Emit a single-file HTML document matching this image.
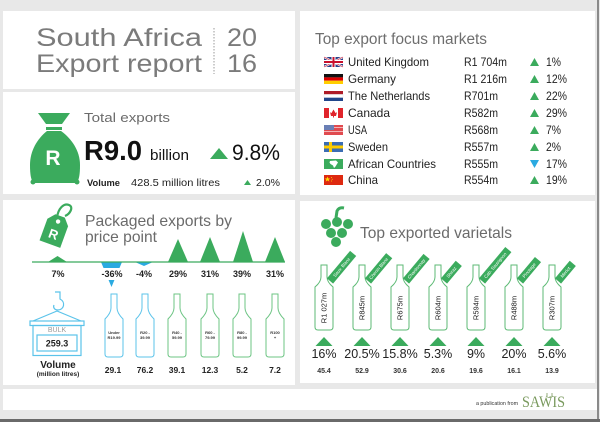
<!DOCTYPE html>
<html><head><meta charset="utf-8"><style>
html,body{margin:0;padding:0;width:600px;height:422px;overflow:hidden;background:#e8e8e8}
svg{display:block}
text{font-family:"Liberation Sans",Arial,sans-serif}
</style></head><body>
<svg width="600" height="422" viewBox="0 0 600 422" xmlns="http://www.w3.org/2000/svg">
<defs>
<path id="lb" d="M-3,0 H3 V14 Q3,19 9,25 V60 Q9,63 6,63 H-6 Q-9,63 -9,60 V25 Q-3,19 -3,14 Z"/>
<path id="rb" d="M-3,0 H3 V12 Q3,17 9,22 V62 Q9,65 6,65 H-6 Q-9,65 -9,62 V22 Q-3,17 -3,12 Z"/>
</defs>
<rect x="0" y="0" width="600" height="422" fill="#e8e8e8"/>
<rect x="3" y="11" width="292" height="78" fill="#fff"/>
<rect x="3" y="92" width="292" height="102" fill="#fff"/>
<rect x="3" y="200" width="292" height="185" fill="#fff"/>
<rect x="300" y="11" width="295" height="184" fill="#fff"/>
<rect x="300" y="201" width="295" height="182" fill="#fff"/>
<rect x="3" y="389" width="594" height="21" fill="#fff"/>
<rect x="597" y="0" width="2" height="422" fill="#8a8a8a"/>
<rect x="0" y="419" width="600" height="3" fill="#6a6a6a"/>

<!-- P1 header -->
<text x="36" y="46" font-size="25" fill="#7b7b7b" textLength="166" lengthAdjust="spacingAndGlyphs">South Africa</text>
<text x="36" y="72" font-size="25" fill="#7b7b7b" textLength="166" lengthAdjust="spacingAndGlyphs">Export report</text>
<line x1="214" y1="28" x2="214" y2="74" stroke="#9a9a9a" stroke-width="1" stroke-dasharray="1.5,1.5"/>
<text x="227" y="46" font-size="25" fill="#7b7b7b" textLength="30" lengthAdjust="spacingAndGlyphs">20</text>
<text x="227" y="72" font-size="25" fill="#7b7b7b" textLength="30" lengthAdjust="spacingAndGlyphs">16</text>

<!-- P2 total exports -->
<path d="M38,113 L70,113 L62,124 L46,124 Z" fill="#3bab5d"/>
<path d="M46,127 L62,127 L62,130 L46,130 Z" fill="#3bab5d"/>
<path d="M47,131 L61,131 C72,139 80,151 80,165 C80,175 79,179 77,183 L33,183 C31,179 30,175 30,165 C30,151 37,139 47,131 Z" fill="#3bab5d"/>
<circle cx="33" cy="182" r="2.5" fill="#3bab5d"/>
<circle cx="77" cy="182" r="2.5" fill="#3bab5d"/>
<text x="53" y="165" font-size="21" font-weight="bold" fill="#fff" text-anchor="middle">R</text>
<text x="84" y="122" font-size="13" fill="#6b6b6b" textLength="86" lengthAdjust="spacingAndGlyphs">Total exports</text>
<text x="84" y="160" font-size="28" font-weight="bold" fill="#111" textLength="58" lengthAdjust="spacingAndGlyphs">R9.0</text>
<text x="150" y="160" font-size="15" fill="#111" textLength="39" lengthAdjust="spacingAndGlyphs">billion</text>
<polygon points="210,159 219,148 228,159" fill="#3bab5d"/>
<text x="232" y="160" font-size="22" fill="#111" textLength="48" lengthAdjust="spacingAndGlyphs">9.8%</text>
<text x="87" y="186" font-size="9" font-weight="bold" fill="#222" textLength="33" lengthAdjust="spacingAndGlyphs">Volume</text>
<text x="131" y="186" font-size="10.5" fill="#222" textLength="89" lengthAdjust="spacingAndGlyphs">428.5 million litres</text>
<polygon points="244,185 247.5,180 251,185" fill="#3bab5d"/>
<text x="256" y="186" font-size="10" fill="#222" textLength="24" lengthAdjust="spacingAndGlyphs">2.0%</text>

<!-- P4 markets -->
<text x="315" y="44" font-size="15.5" fill="#6e6e6e" textLength="172" lengthAdjust="spacingAndGlyphs">Top export focus markets</text>
<g>
<rect x="324" y="57" width="19" height="10" fill="#2b3f87"/>
<line x1="324" y1="57" x2="343" y2="67" stroke="#fff" stroke-width="2"/>
<line x1="343" y1="57" x2="324" y2="67" stroke="#fff" stroke-width="2"/>
<line x1="324" y1="57" x2="343" y2="67" stroke="#c8102e" stroke-width="0.7"/>
<line x1="343" y1="57" x2="324" y2="67" stroke="#c8102e" stroke-width="0.7"/>
<rect x="331.5" y="57" width="4" height="10" fill="#fff"/>
<rect x="324" y="60" width="19" height="4" fill="#fff"/>
<rect x="332.5" y="57" width="2" height="10" fill="#c8102e"/>
<rect x="324" y="61" width="19" height="2" fill="#c8102e"/>
</g>
<rect x="324" y="74" width="19" height="3.4" fill="#111"/>
<rect x="324" y="77.4" width="19" height="3.3" fill="#dd0000"/>
<rect x="324" y="80.7" width="19" height="3.3" fill="#ffce00"/>
<rect x="324" y="91" width="19" height="3.4" fill="#ae1c28"/>
<rect x="324" y="94.4" width="19" height="3.3" fill="#fff" stroke="#ddd" stroke-width="0.3"/>
<rect x="324" y="97.7" width="19" height="3.3" fill="#21468b"/>
<rect x="324" y="108" width="19" height="10" fill="#fff"/>
<rect x="324" y="108" width="5" height="10" fill="#e0242b"/>
<rect x="338" y="108" width="5" height="10" fill="#e0242b"/>
<path d="M333.5,109.5 L335.5,113 L337,112.3 L336,116 L331,116 L330,112.3 L331.5,113 Z" fill="#e0242b"/>
<rect x="333" y="115.5" width="1" height="2" fill="#e0242b"/>
<rect x="324" y="125" width="19" height="10" fill="#e04a4f"/>
<rect x="324" y="127" width="19" height="1" fill="#f3b3b5"/>
<rect x="324" y="131" width="19" height="1" fill="#f3b3b5"/>
<rect x="324" y="125" width="10" height="5" fill="#6a7fb5"/>
<rect x="324" y="142" width="19" height="10" fill="#3b6db3"/>
<rect x="329" y="142" width="3" height="10" fill="#fecc00"/>
<rect x="324" y="145.5" width="19" height="3" fill="#fecc00"/>
<rect x="324" y="159" width="19" height="10" fill="#3bab5d"/>
<path d="M330,161 L336,160.5 L338,162.5 L337,164 L335.5,166.5 L334,168 L333,165.5 L330.5,164 L329.5,162.5 Z" fill="#fff"/>
<rect x="324" y="175" width="19" height="10" fill="#de2910"/>
<polygon points="327.5,176.5 328.3,178.5 330.3,178.5 328.7,179.7 329.3,181.6 327.5,180.4 325.7,181.6 326.3,179.7 324.7,178.5 326.7,178.5" fill="#ffde00"/>
<circle cx="331.5" cy="177.5" r="0.5" fill="#ffde00"/>
<circle cx="332.2" cy="179.2" r="0.5" fill="#ffde00"/>
<circle cx="331.5" cy="181" r="0.5" fill="#ffde00"/>

<g font-size="12" fill="#222">
<text x="348" y="66" textLength="81" lengthAdjust="spacingAndGlyphs">United Kingdom</text>
<text x="348" y="83" textLength="48" lengthAdjust="spacingAndGlyphs">Germany</text>
<text x="348" y="100" textLength="82" lengthAdjust="spacingAndGlyphs">The Netherlands</text>
<text x="348" y="117" textLength="42" lengthAdjust="spacingAndGlyphs">Canada</text>
<text x="348" y="134" textLength="19" lengthAdjust="spacingAndGlyphs">USA</text>
<text x="348" y="151" textLength="40" lengthAdjust="spacingAndGlyphs">Sweden</text>
<text x="348" y="168" textLength="88" lengthAdjust="spacingAndGlyphs">African Countries</text>
<text x="348" y="184" textLength="30" lengthAdjust="spacingAndGlyphs">China</text>
<text x="464" y="66" textLength="43" lengthAdjust="spacingAndGlyphs">R1 704m</text>
<text x="464" y="83" textLength="43" lengthAdjust="spacingAndGlyphs">R1 216m</text>
<text x="464" y="100" textLength="34" lengthAdjust="spacingAndGlyphs">R701m</text>
<text x="464" y="117" textLength="34" lengthAdjust="spacingAndGlyphs">R582m</text>
<text x="464" y="134" textLength="34" lengthAdjust="spacingAndGlyphs">R568m</text>
<text x="464" y="151" textLength="34" lengthAdjust="spacingAndGlyphs">R557m</text>
<text x="464" y="168" textLength="34" lengthAdjust="spacingAndGlyphs">R555m</text>
<text x="464" y="184" textLength="34" lengthAdjust="spacingAndGlyphs">R554m</text>
<text x="546" y="66" textLength="15" lengthAdjust="spacingAndGlyphs">1%</text>
<text x="546" y="83" textLength="21" lengthAdjust="spacingAndGlyphs">12%</text>
<text x="546" y="100" textLength="21" lengthAdjust="spacingAndGlyphs">22%</text>
<text x="546" y="117" textLength="21" lengthAdjust="spacingAndGlyphs">29%</text>
<text x="546" y="134" textLength="15" lengthAdjust="spacingAndGlyphs">7%</text>
<text x="546" y="151" textLength="15" lengthAdjust="spacingAndGlyphs">2%</text>
<text x="546" y="168" textLength="21" lengthAdjust="spacingAndGlyphs">17%</text>
<text x="546" y="184" textLength="21" lengthAdjust="spacingAndGlyphs">19%</text>
</g>
<g fill="#3bab5d">
<polygon points="530,66 534.5,58 539,66"/>
<polygon points="530,83 534.5,75 539,83"/>
<polygon points="530,100 534.5,92 539,100"/>
<polygon points="530,117 534.5,109 539,117"/>
<polygon points="530,134 534.5,126 539,134"/>
<polygon points="530,151 534.5,143 539,151"/>
<polygon points="530,184 534.5,176 539,184"/>
</g>
<polygon points="530,160 539,160 534.5,168" fill="#2aaae1"/>

<!-- P3 packaged exports -->
<g transform="translate(55,230) rotate(20)">
<polygon points="-11,-8 -5,-15 5,-15 11,-8 11,15 -11,15" fill="#3bab5d"/>
<circle cx="0" cy="-9" r="2.2" fill="#fff"/>
<text x="0" y="9" font-size="13" font-weight="bold" fill="#fff" text-anchor="middle">R</text>
</g>
<path d="M57,218 C58,208 64,203 69,205 C74,207 70,214 65,216" fill="none" stroke="#3bab5d" stroke-width="2.2"/>
<text x="85" y="226" font-size="16" fill="#6b6b6b" textLength="147" lengthAdjust="spacingAndGlyphs">Packaged exports by</text>
<text x="85" y="242" font-size="16" fill="#6b6b6b" textLength="72" lengthAdjust="spacingAndGlyphs">price point</text>
<g fill="#3bab5d">
<polygon points="48,262 57.5,256 67,262"/>
<polygon points="168,262 178,239 188,262"/>
<polygon points="200,262 210,237 220,262"/>
<polygon points="233,262 243,231 253,262"/>
<polygon points="265,262 275,237 285,262"/>
</g>
<g fill="#2aaae1">
<polygon points="101,262 122,262 111.5,287"/>
<polygon points="135,262 153,262 144,266"/>
</g>
<line x1="32" y1="262" x2="285" y2="262" stroke="#3bab5d" stroke-width="1.3"/>
<rect x="98" y="268" width="28" height="12" fill="#fff"/>
<g font-size="9" font-weight="bold" fill="#222" text-anchor="middle">
<text x="58" y="277">7%</text>
<text x="112" y="277">-36%</text>
<text x="144" y="277">-4%</text>
<text x="178" y="277">29%</text>
<text x="210" y="277">31%</text>
<text x="242" y="277">39%</text>
<text x="275" y="277">31%</text>
</g>
<g fill="none" stroke="#5bc3ea" stroke-width="1.2">
<path d="M55,292 L60,292 L60,299 C66,302 64,310 58,310 C54,310 53,307 54,305"/>
<path d="M57,311 L33,321 M57,311 L81,321"/>
<rect x="30" y="321" width="54" height="4.5"/>
<rect x="33" y="325.5" width="48" height="30"/>
<rect x="37" y="335" width="40" height="16"/>
</g>
<text x="57" y="332" font-size="7" fill="#9a9a9a" text-anchor="middle">BULK</text>
<text x="57" y="346.5" font-size="9" font-weight="bold" fill="#222" text-anchor="middle">259.3</text>
<text x="58" y="368" font-size="10" font-weight="bold" fill="#222" text-anchor="middle">Volume</text>
<text x="58" y="376" font-size="6.5" font-weight="bold" fill="#222" text-anchor="middle">(million litres)</text>
<g fill="none" stroke-width="1">
<use href="#lb" transform="translate(114,294)" stroke="#5bc3ea"/>
<use href="#lb" transform="translate(145,294)" stroke="#5bc3ea"/>
<use href="#lb" transform="translate(177,294)" stroke="#6cc483"/>
<use href="#lb" transform="translate(210,294)" stroke="#6cc483"/>
<use href="#lb" transform="translate(242,294)" stroke="#6cc483"/>
<use href="#lb" transform="translate(275,294)" stroke="#6cc483"/>
</g>
<g font-size="4" font-weight="bold" fill="#333" text-anchor="middle">
<text x="114" y="334">Under</text><text x="114" y="339">R19.99</text>
<text x="145" y="334">R20 -</text><text x="145" y="339">39.99</text>
<text x="177" y="334">R40 -</text><text x="177" y="339">59.99</text>
<text x="210" y="334">R60 -</text><text x="210" y="339">79.99</text>
<text x="242" y="334">R80 -</text><text x="242" y="339">99.99</text>
<text x="275" y="334">R100</text><text x="275" y="339">+</text>
</g>
<g font-size="8.5" font-weight="bold" fill="#222" text-anchor="middle">
<text x="113" y="373">29.1</text>
<text x="145" y="373">76.2</text>
<text x="177" y="373">39.1</text>
<text x="210" y="373">12.3</text>
<text x="242" y="373">5.2</text>
<text x="275" y="373">7.2</text>
</g>

<!-- P5 varietals -->
<g fill="#3bab5d">
<circle cx="326" cy="224" r="5"/>
<circle cx="337" cy="222" r="5"/>
<circle cx="348" cy="224" r="5"/>
<circle cx="331" cy="233" r="5"/>
<circle cx="342" cy="233" r="5"/>
<circle cx="336" cy="242" r="5"/>
</g>
<path d="M336,218 L337,211 Q339,207 344,208" fill="none" stroke="#3bab5d" stroke-width="3"/>
<text x="360" y="238" font-size="16" fill="#6b6b6b" textLength="152" lengthAdjust="spacingAndGlyphs">Top exported varietals</text>
<g fill="none" stroke="#5cba74" stroke-width="1">
<use href="#rb" transform="translate(324,265)"/>
<use href="#rb" transform="translate(362,265)"/>
<use href="#rb" transform="translate(400,265)"/>
<use href="#rb" transform="translate(438,265)"/>
<use href="#rb" transform="translate(476,265)"/>
<use href="#rb" transform="translate(514,265)"/>
<use href="#rb" transform="translate(552,265)"/>
</g>
<g font-size="7.5" fill="#222" text-anchor="middle">
<text transform="translate(326.5,308) rotate(-90)">R1 027m</text>
<text transform="translate(364.5,308) rotate(-90)">R845m</text>
<text transform="translate(402.5,308) rotate(-90)">R675m</text>
<text transform="translate(440.5,308) rotate(-90)">R604m</text>
<text transform="translate(478.5,308) rotate(-90)">R594m</text>
<text transform="translate(516.5,308) rotate(-90)">R488m</text>
<text transform="translate(554.5,308) rotate(-90)">R307m</text>
</g>
<g font-size="4.5" fill="#fff" text-anchor="middle">
<g transform="translate(330,281) rotate(-50)"><rect x="0" y="-4" width="36" height="8" fill="#3bab5d"/><text x="18" y="1.6">Sauv. Blanc</text></g>
<g transform="translate(368,281) rotate(-50)"><rect x="0" y="-4" width="33" height="8" fill="#3bab5d"/><text x="16.5" y="1.6">Chenin Blanc</text></g>
<g transform="translate(406,281) rotate(-50)"><rect x="0" y="-4" width="32" height="8" fill="#3bab5d"/><text x="16" y="1.6">Chardonnay</text></g>
<g transform="translate(444,281) rotate(-50)"><rect x="0" y="-4" width="23" height="8" fill="#3bab5d"/><text x="11.5" y="1.6">Shiraz</text></g>
<g transform="translate(482,281) rotate(-50)"><rect x="0" y="-4" width="41" height="8" fill="#3bab5d"/><text x="20.5" y="1.6">Cab. Sauvignon</text></g>
<g transform="translate(520,281) rotate(-50)"><rect x="0" y="-4" width="28" height="8" fill="#3bab5d"/><text x="14" y="1.6">Pinotage</text></g>
<g transform="translate(558,281) rotate(-50)"><rect x="0" y="-4" width="23" height="8" fill="#3bab5d"/><text x="11.5" y="1.6">Merlot</text></g>
</g>
<g fill="#3bab5d">
<polygon points="315.5,346 324,337 332.5,346"/>
<polygon points="353.5,346 362,337 370.5,346"/>
<polygon points="391.5,346 400,337 408.5,346"/>
<polygon points="429.5,346 438,337 446.5,346"/>
<polygon points="467.5,346 476,337 484.5,346"/>
<polygon points="505.5,346 514,337 522.5,346"/>
<polygon points="543.5,346 552,337 560.5,346"/>
</g>
<g font-size="12.5" fill="#222" text-anchor="middle">
<text x="324" y="358">16%</text>
<text x="362" y="358">20.5%</text>
<text x="400" y="358">15.8%</text>
<text x="438" y="358">5.3%</text>
<text x="476" y="358">9%</text>
<text x="514" y="358">20%</text>
<text x="552" y="358">5.6%</text>
</g>
<g font-size="7" font-weight="bold" fill="#333" text-anchor="middle">
<text x="324" y="373">45.4</text>
<text x="362" y="373">52.9</text>
<text x="400" y="373">30.6</text>
<text x="438" y="373">20.6</text>
<text x="476" y="373">19.6</text>
<text x="514" y="373">16.1</text>
<text x="552" y="373">13.9</text>
</g>

<!-- footer -->
<text x="476" y="405" font-size="5" fill="#333" textLength="42" lengthAdjust="spacingAndGlyphs">a publication from</text>
<text x="522" y="407" font-size="16" fill="#7a9a5e" textLength="43" lengthAdjust="spacingAndGlyphs" style="font-family:'Liberation Serif',serif">SAWIS</text>
<path d="M547,396 L547,393 M552,396 L552,393 M546,396 Q549.5,399 553,396" fill="none" stroke="#7a9a5e" stroke-width="0.8"/>
</svg>
</body></html>
